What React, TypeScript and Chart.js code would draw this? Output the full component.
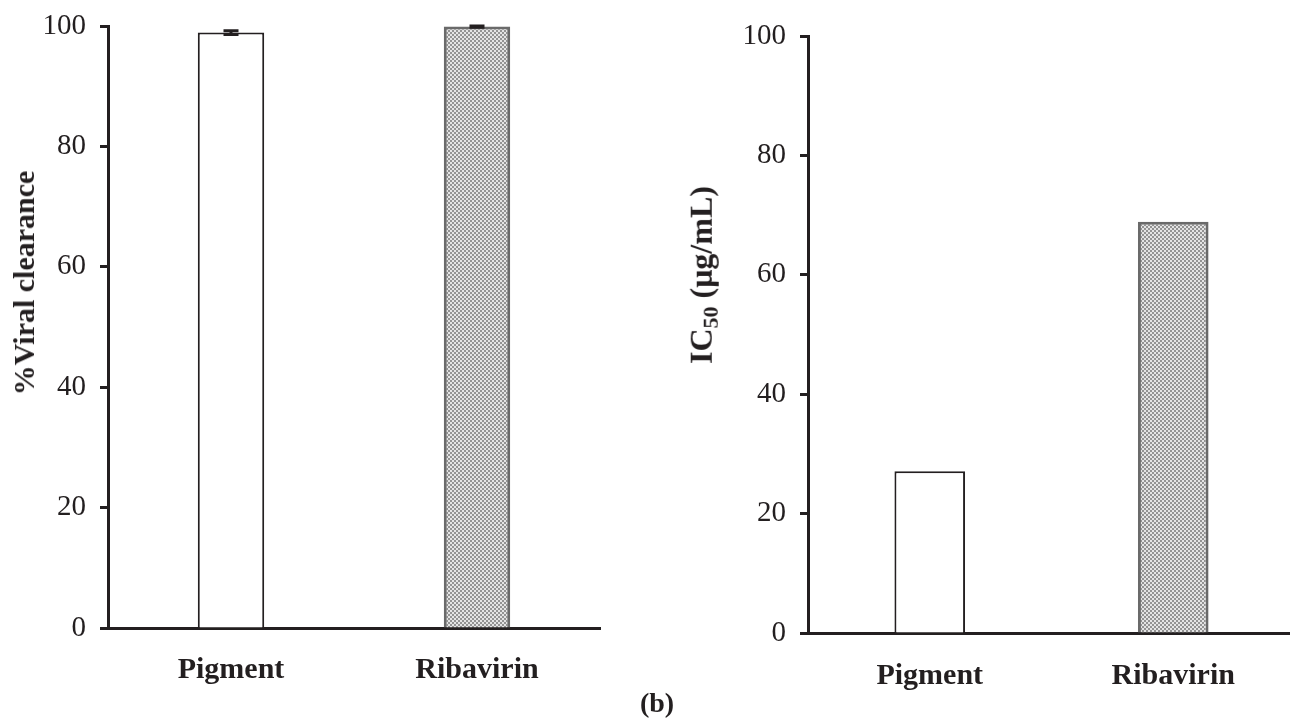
import React, { useEffect, useRef } from "react";
import { Chart, registerables } from "chart.js";

Chart.register(...registerables);

const categories = ["Pigment", "Ribavirin"];
const clearanceValues = [98.9, 99.9];
const clearanceErrors = [0.3, 0.1];
const ic50Values = [27.1, 68.9];
const ic50Errors = [0, 0];
const yMin = 0;
const yMax = 100;
const yStep = 20;

const INK = "#231f20";
const SERIF = "'Liberation Serif', 'Times New Roman', serif";

function makePattern(): CanvasPattern | string {
  const c = document.createElement("canvas");
  c.width = 4;
  c.height = 4;
  const g = c.getContext("2d");
  if (!g) return "#bbbbbb";
  g.fillStyle = "#e4e4e4";
  g.fillRect(0, 0, 4, 4);
  g.fillStyle = "#939393";
  g.fillRect(0, 0, 2, 2);
  g.fillRect(2, 2, 2, 2);
  return g.createPattern(c, "repeat") || "#bbbbbb";
}

const errorBarPlugin = {
  id: "errorBars",
  afterDatasetsDraw(chart: any, _args: any, opts: any) {
    const errs: number[] = opts && opts.errors ? opts.errors : [];
    const meta = chart.getDatasetMeta(0);
    const ys = chart.scales.y;
    const ctx = chart.ctx;
    const vals = chart.data.datasets[0].data as number[];
    ctx.save();
    ctx.strokeStyle = INK;
    ctx.lineWidth = 3;
    meta.data.forEach((el: any, i: number) => {
      const e = errs[i];
      if (!e) return;
      const x = el.x;
      const yTop = ys.getPixelForValue(vals[i] + e);
      const yBot = ys.getPixelForValue(vals[i] - e);
      const half = 7.5;
      ctx.beginPath();
      ctx.moveTo(x, yTop);
      ctx.lineTo(x, yBot);
      ctx.moveTo(x - half, yTop);
      ctx.lineTo(x + half, yTop);
      ctx.moveTo(x - half, yBot);
      ctx.lineTo(x + half, yBot);
      ctx.stroke();
    });
    ctx.restore();
  },
};

function BarPanel(props: {
  values: number[];
  errors: number[];
  width: number;
  height: number;
  left: number;
  top: number;
  yAxisWidth: number;
  xAxisHeight: number;
  padTop: number;
  padRight: number;
  barPct: number;
  labelPad: number;
}) {
  const ref = useRef<HTMLCanvasElement | null>(null);
  useEffect(() => {
    if (!ref.current) return;
    const pattern = makePattern();
    const chart = new Chart(ref.current, {
      type: "bar",
      data: {
        labels: categories,
        datasets: [
          {
            data: props.values,
            backgroundColor: ["#ffffff", pattern as any],
            borderColor: [INK, "#6a6a6a"],
            borderWidth: [2, 3] as any,
            barPercentage: props.barPct,
            categoryPercentage: 1,
          },
        ],
      },
      options: {
        responsive: false,
        animation: false,
        layout: { padding: { top: props.padTop, right: props.padRight, left: 0, bottom: 0 } },
        plugins: {
          legend: { display: false },
          tooltip: { enabled: false },
          title: { display: false },
          errorBars: { errors: props.errors },
        } as any,
        scales: {
          x: {
            grid: { display: false },
            border: { display: true, width: 3, color: INK },
            ticks: {
              color: INK,
              padding: props.labelPad,
              font: { family: SERIF, size: 30, weight: "bold" },
            },
            afterFit: (s: any) => {
              s.height = props.xAxisHeight;
            },
          },
          y: {
            min: yMin,
            max: yMax,
            grid: {
              display: true,
              drawOnChartArea: false,
              drawTicks: true,
              tickLength: 8,
              tickWidth: 3,
              tickColor: INK,
            },
            border: { display: true, width: 3, color: INK },
            ticks: {
              stepSize: yStep,
              color: INK,
              padding: 14,
              font: { family: SERIF, size: 29 },
            },
            afterFit: (s: any) => {
              s.width = props.yAxisWidth;
            },
          },
        },
      },
      plugins: [errorBarPlugin as any],
    });
    return () => chart.destroy();
  }, []);
  return (
    <canvas
      ref={ref}
      width={props.width}
      height={props.height}
      style={{ position: "absolute", left: props.left, top: props.top, width: props.width, height: props.height }}
    />
  );
}

export default function App() {
  const titleStyle: React.CSSProperties = {
    position: "absolute",
    transform: "translate(-50%, -50%) rotate(-90deg)",
    fontFamily: SERIF,
    fontWeight: "bold",
    fontSize: 30,
    color: INK,
    whiteSpace: "nowrap",
    lineHeight: 1,
  };
  return (
    <div style={{ position: "fixed", left: 0, top: 0, width: 1290, height: 719, background: "#fff", overflow: "hidden" }}>
      <BarPanel
        values={clearanceValues}
        errors={clearanceErrors}
        width={640}
        height={725}
        left={0}
        top={-6}
        yAxisWidth={108}
        xAxisHeight={91}
        padTop={32}
        padRight={40}
        barPct={0.27}
        labelPad={16}
      />
      <BarPanel
        values={ic50Values}
        errors={ic50Errors}
        width={655}
        height={719}
        left={640}
        top={0}
        yAxisWidth={168}
        xAxisHeight={86}
        padTop={36}
        padRight={0}
        barPct={0.29}
        labelPad={17}
      />
      <div style={{ ...titleStyle, left: 24, top: 283 }}>%Viral clearance</div>
      <div style={{ ...titleStyle, left: 703, top: 275, fontSize: 32 }}>
        IC<sub style={{ fontSize: 22, verticalAlign: "-0.25em" }}>50</sub> (μg/mL)
      </div>
      <div
        style={{
          position: "absolute",
          left: 657,
          top: 703,
          transform: "translate(-50%, -50%)",
          fontFamily: SERIF,
          fontWeight: "bold",
          fontSize: 28,
          color: INK,
          lineHeight: 1,
        }}
      >
        (b)
      </div>
    </div>
  );
}
